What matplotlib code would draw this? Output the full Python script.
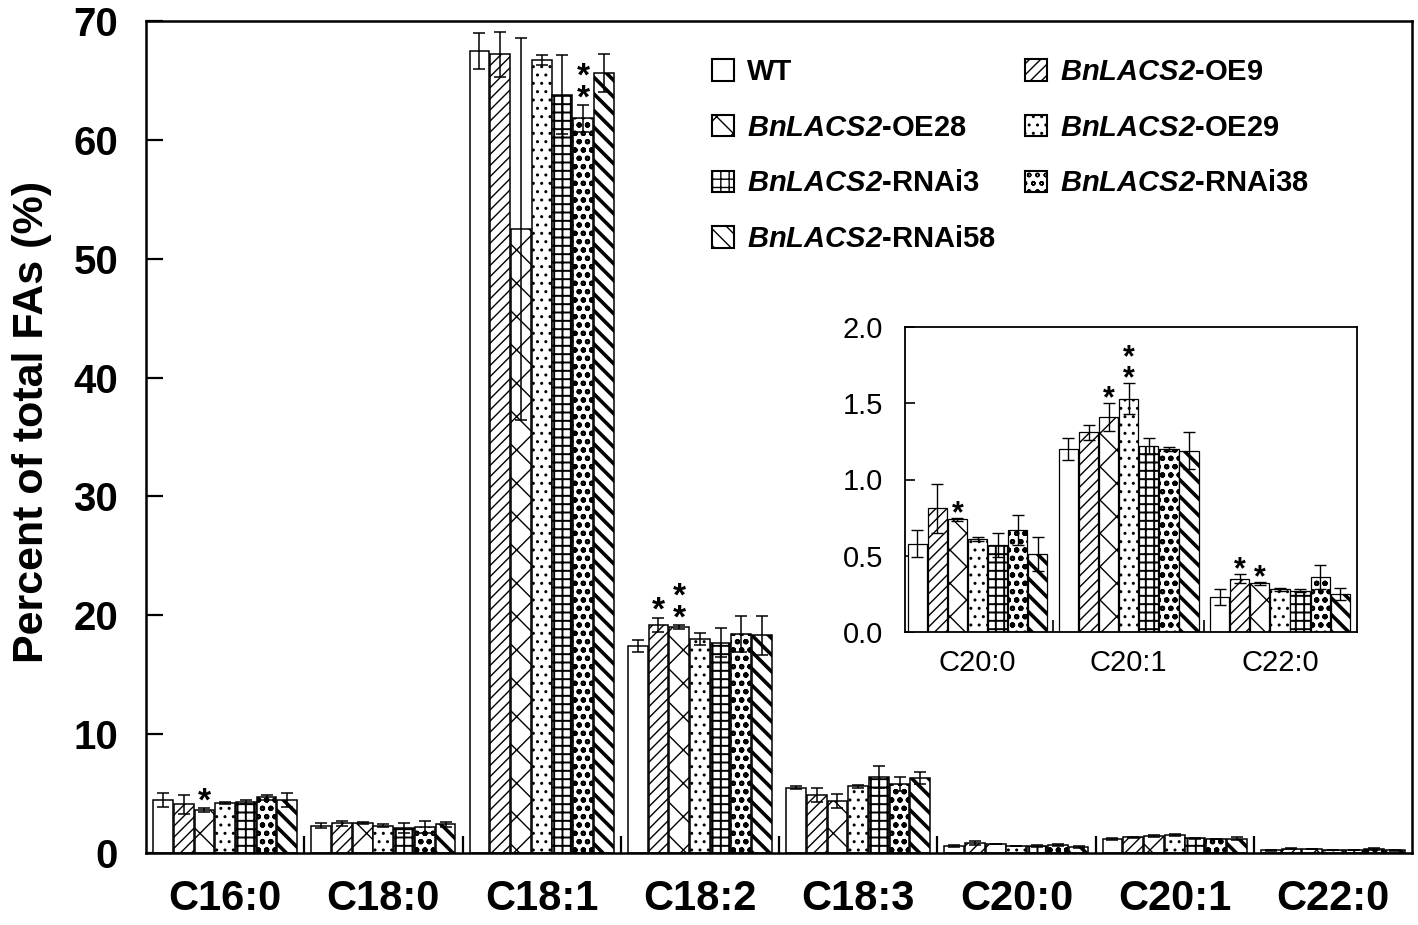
import matplotlib
matplotlib.use('Agg')
import matplotlib as mpl
import matplotlib.pyplot as plt
from matplotlib.patches import Patch
from matplotlib.ticker import FixedLocator, FormatStrFormatter
import numpy as np

plt.rcParams['font.family'] = ['Liberation Sans', 'DejaVu Sans']
plt.rcParams['mathtext.fontset'] = 'custom'
plt.rcParams['mathtext.it'] = 'Liberation Sans:bold:italic'
plt.rcParams['mathtext.rm'] = 'Liberation Sans:bold:italic'
plt.rcParams['mathtext.bf'] = 'Liberation Sans:bold:italic'

# fatty acid composition, % of total FAs
groups = ['C16:0', 'C18:0', 'C18:1', 'C18:2', 'C18:3', 'C20:0', 'C20:1', 'C22:0']
lines = ['WT', 'OE9', 'OE28', 'OE29', 'RNAi3', 'RNAi38', 'RNAi58']
labels = ['WT',
          r'$\mathit{BnLACS2}$-OE9',
          r'$\mathit{BnLACS2}$-OE28',
          r'$\mathit{BnLACS2}$-OE29',
          r'$\mathit{BnLACS2}$-RNAi3',
          r'$\mathit{BnLACS2}$-RNAi38',
          r'$\mathit{BnLACS2}$-RNAi58']

wt     = [4.45, 2.3, 67.5, 17.4, 5.5, 0.58, 1.20, 0.23]
oe9    = [4.1, 2.5, 67.2, 19.2, 4.9, 0.81, 1.31, 0.35]
oe28   = [3.6, 2.5, 52.5, 19.0, 4.4, 0.74, 1.41, 0.32]
oe29   = [4.2, 2.3, 66.7, 18.0, 5.6, 0.61, 1.53, 0.28]
rnai3  = [4.3, 2.1, 63.8, 17.7, 6.4, 0.57, 1.22, 0.27]
rnai38 = [4.7, 2.2, 61.8, 18.4, 5.8, 0.67, 1.20, 0.36]
rnai58 = [4.45, 2.4, 65.6, 18.3, 6.3, 0.51, 1.19, 0.25]

wt_err     = [0.6, 0.2, 1.5, 0.5, 0.15, 0.09, 0.07, 0.05]
oe9_err    = [0.8, 0.2, 1.9, 0.6, 0.6, 0.16, 0.05, 0.03]
oe28_err   = [0.15, 0.1, 16.1, 0.15, 0.6, 0.01, 0.09, 0.01]
oe29_err   = [0.1, 0.1, 0.4, 0.5, 0.1, 0.01, 0.10, 0.01]
rnai3_err  = [0.2, 0.4, 3.3, 1.2, 0.9, 0.08, 0.05, 0.01]
rnai38_err = [0.2, 0.5, 1.1, 1.5, 0.6, 0.10, 0.01, 0.08]
rnai58_err = [0.6, 0.2, 1.6, 1.6, 0.5, 0.11, 0.12, 0.04]

values = [wt, oe9, oe28, oe29, rnai3, rnai38, rnai58]
errors = [wt_err, oe9_err, oe28_err, oe29_err, rnai3_err, rnai38_err, rnai58_err]

# (group index, line index, number of asterisks)
sig_main = [(0, 2, 1), (2, 5, 2), (3, 1, 1), (3, 2, 2)]
sig_inset = [(5, 2, 1), (6, 2, 1), (6, 3, 2), (7, 1, 1), (7, 2, 1)]

hatches = ['', '///', 'x', '..', '++', 'oo', '\\\\']
hatch_lw = [1.0, 1.0, 1.0, 1.0, 1.4, 1.5, 2.6]

fig = plt.figure(figsize=(14.18, 9.25), dpi=100)
ax = fig.add_axes([146/1418, 1-853/925, 1266/1418, 832/925])


def draw_bars(a, idx, step, width, edge_lw, err_lw, capsize):
    x = np.arange(len(idx))
    for j in range(len(lines)):
        v = np.array(values[j])[idx]
        e = np.array(errors[j])[idx]
        with mpl.rc_context({'hatch.linewidth': hatch_lw[j]}):
            bars = a.bar(x + (j - 3) * step, v, width, yerr=e, color='white',
                         edgecolor='black', hatch=hatches[j], linewidth=edge_lw,
                         error_kw=dict(ecolor='black', elinewidth=err_lw,
                                       capsize=capsize, capthick=err_lw),
                         zorder=2)
        for b in bars:
            if hasattr(b, 'set_hatch_linewidth'):
                b.set_hatch_linewidth(hatch_lw[j])
    return x


def stars(a, sig, idx, step, fs, first):
    # stacked asterisks as one text so they do not collide
    for g, j, n in sig:
        if g not in idx:
            continue
        gx = idx.index(g) + (j - 3) * step
        top = values[j][g] + errors[j][g]
        a.annotate('\n'.join(['*'] * n), xy=(gx, top), xytext=(0, first),
                   textcoords='offset points', ha='center', va='baseline',
                   multialignment='center', linespacing=0.62,
                   fontsize=fs, fontweight='bold')


main_idx = list(range(len(groups)))
x = draw_bars(ax, main_idx, 0.131, 0.125, 1.1, 1.1, 4.5)
stars(ax, sig_main, main_idx, 0.131, 24, -1.5)

ax.set_xlim(-0.5, 7.5)
ax.set_ylim(0, 70)
ax.set_yticks(np.arange(0, 71, 10))
ax.set_xticks(x)
ax.set_xticklabels(groups)
ax.xaxis.set_minor_locator(FixedLocator(np.arange(0.5, 7.0, 1.0)))
ax.tick_params(axis='y', direction='in', length=12, width=1.6, labelsize=29, pad=20)
ax.tick_params(axis='x', which='major', length=0, labelsize=30, pad=19)
ax.tick_params(axis='x', which='minor', direction='in', length=12, width=1.6)
for lbl in ax.get_xticklabels() + ax.get_yticklabels():
    lbl.set_fontweight('bold')
for s in ax.spines.values():
    s.set_linewidth(1.8)
ax.set_ylabel('Percent of total FAs (%)', fontsize=31, fontweight='bold')
ax.yaxis.set_label_coords(-0.074, 0.518)

# legend
order = [0, 2, 4, 6, 1, 3, 5]
handles = []
for j in order:
    with mpl.rc_context({'hatch.linewidth': min(hatch_lw[j], 1.5)}):
        handles.append(Patch(facecolor='white', edgecolor='black', hatch=hatches[j], linewidth=1.5))
leg = fig.legend(handles, [labels[j] for j in order], ncol=2, frameon=False,
                 loc='upper left', bbox_to_anchor=(712/1418, 1-58/925),
                 prop={'weight': 'bold', 'size': 21},
                 handlelength=0.75, handleheight=0.75, handletextpad=0.45,
                 columnspacing=1.0, labelspacing=0.95, borderpad=0, borderaxespad=0)

# inset with the minor fatty acids
inset_idx = [5, 6, 7]
axi = fig.add_axes([905/1418, 1-632/925, 452/1418, 305/925])
xi = draw_bars(axi, inset_idx, 0.133, 0.127, 0.9, 1.0, 4)
stars(axi, sig_inset, inset_idx, 0.133, 22, -3.0)
axi.set_xlim(-0.48, 2.51)
axi.set_ylim(0, 2.0)
axi.set_yticks(np.arange(0, 2.01, 0.5))
axi.yaxis.set_major_formatter(FormatStrFormatter('%.1f'))
axi.set_xticks(xi)
axi.set_xticklabels([groups[i] for i in inset_idx])
axi.xaxis.set_minor_locator(FixedLocator([0.5, 1.5]))
axi.tick_params(axis='y', direction='in', length=7, width=1.2, labelsize=21, pad=16)
axi.tick_params(axis='x', which='major', length=0, labelsize=21, pad=12)
axi.tick_params(axis='x', which='minor', direction='in', length=9, width=1.2)
for s in axi.spines.values():
    s.set_linewidth(1.3)

fig.savefig('out.png', dpi=100)
